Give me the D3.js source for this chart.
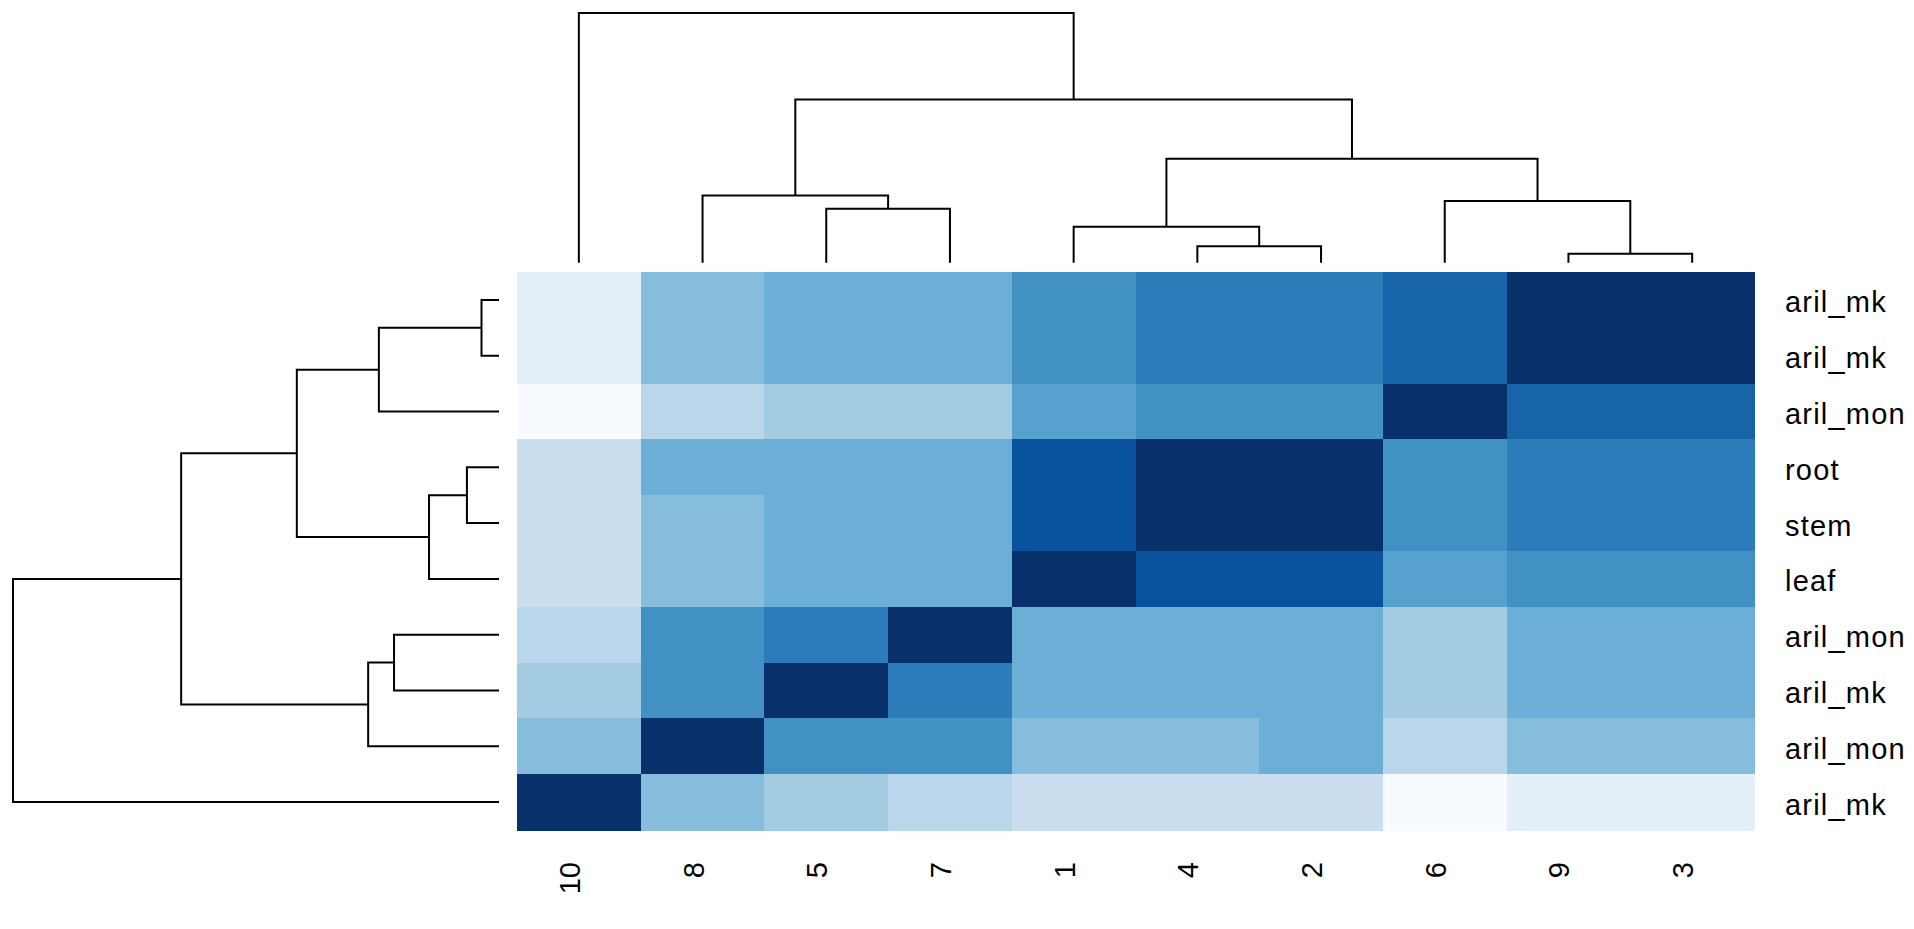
<!DOCTYPE html>
<html>
<head>
<meta charset="utf-8">
<script src="https://cdn.jsdelivr.net/npm/d3@7"></script>
<style>
	body { margin: 0; background: #fff; }
	text { font-family: "Liberation Sans", Arial, sans-serif; }
</style>
</head>
<body>
<div id="svg-container"></div>
<script>

	// samples in the order the columns are drawn (left -> right)
	var colSamples = [10, 8, 5, 7, 1, 4, 2, 6, 9, 3];
	// rows are the same samples, drawn bottom -> top
	var rowSamples = colSamples.slice().reverse();

	// tissue of each sample (used as row label)
	var sampleIds     = [1, 2, 3, 4, 5, 6, 7, 8, 9, 10];
	var sampleTissues = ["leaf", "root", "aril_mk", "stem", "aril_mk", "aril_mon", "aril_mon", "aril_mon", "aril_mk", "aril_mk"];

	// hclust style merges: negative = sample id, positive = earlier merge (1-based)
	var mergeLeft   = [-9, -4, -5, -1, -6, -8, 4, 6, -10];
	var mergeRight  = [-3, -2, -7,  2,  1,  3, 5, 7,   8];
	var mergeHeight = [0.09, 0.165, 0.54, 0.36, 0.618, 0.673, 1.04, 1.635, 2.5];

	// cell values (position on the colour ramp), rows top -> bottom, cols left -> right
	var cellValues = [
		[0.09, 0.435, 0.5,  0.5,  0.63, 0.71, 0.71, 0.8,  1,    1   ],
		[0.09, 0.435, 0.5,  0.5,  0.63, 0.71, 0.71, 0.8,  1,    1   ],
		[0,    0.29,  0.36, 0.36, 0.56, 0.63, 0.63, 1,    0.8,  0.8 ],
		[0.23, 0.5,   0.5,  0.5,  0.87, 1,    1,    0.63, 0.71, 0.71],
		[0.23, 0.435, 0.5,  0.5,  0.87, 1,    1,    0.63, 0.71, 0.71],
		[0.23, 0.435, 0.5,  0.5,  1,    0.87, 0.87, 0.56, 0.63, 0.63],
		[0.29, 0.63,  0.71, 1,    0.5,  0.5,  0.5,  0.36, 0.5,  0.5 ],
		[0.36, 0.63,  1,    0.71, 0.5,  0.5,  0.5,  0.36, 0.5,  0.5 ],
		[0.435, 1,    0.63, 0.63, 0.435, 0.435, 0.5, 0.29, 0.435, 0.435],
		[1,    0.435, 0.36, 0.29, 0.23, 0.23, 0.23, 0,    0.09, 0.09]
	];

	var blues = ["#F7FBFF", "#DEEBF7", "#C6DBEF", "#9ECAE1", "#6BAED6", "#4292C6", "#2171B5", "#08519C", "#08306B"];

	var pageWidth = 1914;
	var pageHeight = 929;

	var heat = { left: 517, right: 1754, top: 272, bottom: 830 };
	var textSize = 29;

	var svg = d3.select('#svg-container')
		.append('svg')
		.attr('width', pageWidth)
		.attr('height', pageHeight)
		.style('background', '#fff');

	var xScale = d3.scaleBand()
		.domain(colSamples)
		.range([heat.left, heat.right]);

	var yScale = d3.scaleBand()
		.domain(rowSamples)
		.range([heat.top, heat.bottom]);

	var colorScale = d3.scaleLinear()
		.domain(blues.map(function(d, i){ return i / (blues.length - 1) }))
		.range(blues)
		.interpolate(d3.interpolateRgb);

	// column dendrogram: height -> y, row dendrogram: height -> x
	var colHeightScale = d3.scaleLinear().domain([0, 2.5]).range([262.7, 13]);
	var rowHeightScale = d3.scaleLinear().domain([0, 2.5]).range([499, 13]);

	// heatmap cells
	var cells = [];
	cellValues.forEach(function(row, r){
		row.forEach(function(v, c){
			cells.push({ row: rowSamples[r], col: colSamples[c], value: v });
		});
	});

	svg.append('g')
		.attr('class', 'cells')
		.selectAll('rect')
		.data(cells)
		.enter()
		.append('rect')
			.attr('x', function(d){ return xScale(d.col) })
			.attr('y', function(d){ return yScale(d.row) })
			.attr('width', xScale.bandwidth() + 0.5)
			.attr('height', yScale.bandwidth() + 0.5)
			.attr('fill', function(d){ return colorScale(d.value) })
			.attr('shape-rendering', 'crispEdges');

	// dendrograms
	function buildSegments(leafPos) {
		var nodes = [];
		var paths = [];
		function node(id) {
			if (id < 0) return { pos: leafPos(-id), h: 0 };
			return nodes[id - 1];
		}
		mergeHeight.forEach(function(h, i){
			var a = node(mergeLeft[i]);
			var b = node(mergeRight[i]);
			nodes.push({ pos: (a.pos + b.pos) / 2, h: h });
			paths.push({ a: a, b: b, h: h });
		});
		return paths;
	}

	var colPaths = buildSegments(function(s){ return xScale(s) + xScale.bandwidth() / 2 });
	var rowPaths = buildSegments(function(s){ return yScale(s) + yScale.bandwidth() / 2 });

	svg.append('g')
		.attr('class', 'col-dendro')
		.selectAll('path')
		.data(colPaths)
		.enter()
		.append('path')
			.attr('d', function(d){
				var y = colHeightScale(d.h);
				return 'M' + d.a.pos + ',' + colHeightScale(d.a.h) + 'V' + y + 'H' + d.b.pos + 'V' + colHeightScale(d.b.h);
			})
			.attr('fill', 'none')
			.attr('stroke', '#000')
			.attr('stroke-width', 2);

	svg.append('g')
		.attr('class', 'row-dendro')
		.selectAll('path')
		.data(rowPaths)
		.enter()
		.append('path')
			.attr('d', function(d){
				var x = rowHeightScale(d.h);
				return 'M' + rowHeightScale(d.a.h) + ',' + d.a.pos + 'H' + x + 'V' + d.b.pos + 'H' + rowHeightScale(d.b.h);
			})
			.attr('fill', 'none')
			.attr('stroke', '#000')
			.attr('stroke-width', 2);

	// row labels (right)
	svg.append('g')
		.attr('class', 'row-labels')
		.selectAll('text')
		.data(rowSamples)
		.enter()
		.append('text')
			.attr('x', heat.right + 31)
			.attr('y', function(d){ return yScale(d) + yScale.bandwidth() / 2 + 12.5 })
			.attr('font-size', textSize)
			.attr('letter-spacing', 1.2)
			.attr('fill', '#000')
			.text(function(d){ return sampleTissues[sampleIds.indexOf(d)] });

	// column labels (bottom, rotated)
	svg.append('g')
		.attr('class', 'col-labels')
		.selectAll('text')
		.data(colSamples)
		.enter()
		.append('text')
			.attr('transform', function(d){
				return 'translate(' + (xScale(d) + xScale.bandwidth() / 2 + 1) + ',' + 862 + ') rotate(-90)';
			})
			.attr('text-anchor', 'end')
			.attr('font-size', textSize)
			.attr('fill', '#000')
			.text(function(d){ return String(d) });

</script>
</body>
</html>
